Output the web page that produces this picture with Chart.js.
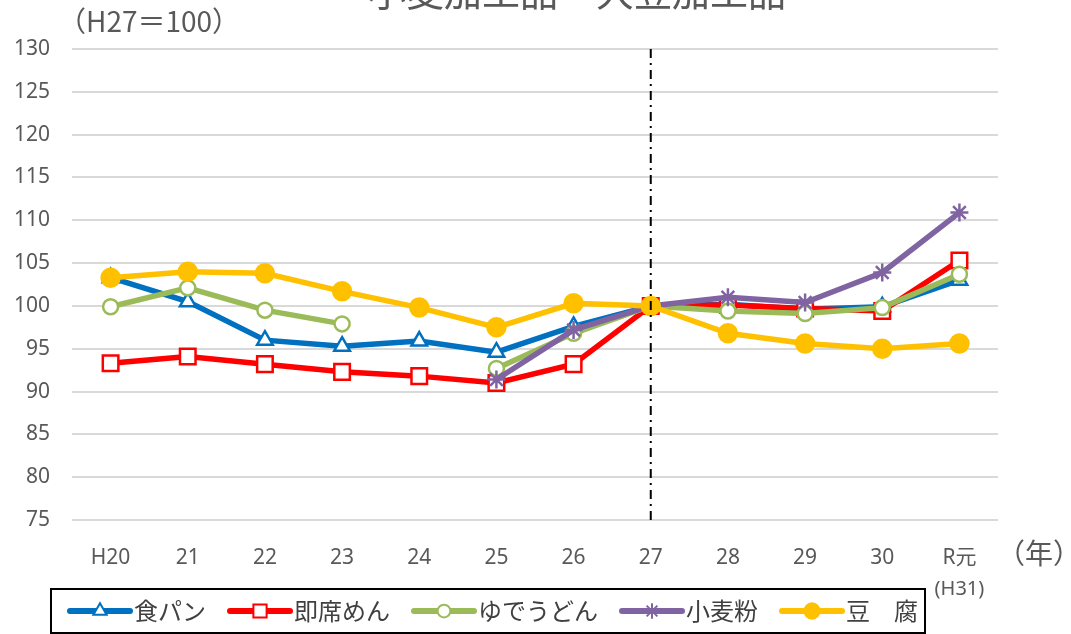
<!DOCTYPE html>
<html lang="ja">
<head>
  <meta charset="UTF-8">
  <title>小麦加工品・大豆加工品</title>
  <script src="https://cdn.jsdelivr.net/npm/chart.js"></script>
  <style>
    html, body { margin: 0; padding: 0; background: #fff; }
    #wrap { width: 1071px; height: 634px; }
  </style>
</head>
<body>
  <div id="wrap"><canvas id="chart" width="1071" height="634"></canvas></div>

  <script>
    // data (H27 = 100)
    const years = ['H20', '21', '22', '23', '24', '25', '26', '27', '28', '29', '30', 'R元'];
    const shokupan = [103.3, 100.5, 96.0, 95.3, 95.9, 94.6, 97.6, 100, 100.2, 99.6, 99.9, 103.0];
    const sokuseki = [93.3, 94.1, 93.2, 92.3, 91.8, 91.0, 93.2, 100, 100.1, 99.7, 99.4, 105.3];
    const yudeudon = [99.9, 102.1, 99.5, 97.9, null, 92.7, 96.8, 100, 99.4, 99.1, 99.8, 103.7];
    const komugiko = [null, null, null, null, null, 91.4, 97.2, 100, 101.0, 100.4, 103.9, 110.9];
    const tofu = [103.3, 104.0, 103.8, 101.7, 99.8, 97.5, 100.3, 100, 96.8, 95.6, 95.0, 95.6];
    const yTicks = { min: 75, max: 130, step: 5 };

    const FONT = '"Noto Sans", "Noto Sans CJK JP", sans-serif';
    const JFONT = '"Noto Sans CJK JP", "Noto Sans", sans-serif';
    const GREY = '#595959';

    function series(label, data, color, style, radius, fill, order) {
      return {
        label: label,
        data: data,
        borderColor: color,
        backgroundColor: color,
        borderWidth: 5.5,
        pointStyle: style,
        pointRadius: radius,
        pointBorderWidth: 2.5,
        pointBorderColor: color,
        pointBackgroundColor: fill,
        tension: 0,
        order: order
      };
    }

    // text, the dash-dot line at 27 and the boxed legend
    const extras = {
      id: 'extras',
      afterDatasetsDraw(chart) {
        const ctx = chart.ctx;
        const area = chart.chartArea;
        const x = chart.scales.x;
        ctx.save();
        // dash-dot marker at H27
        const x27 = x.getPixelForValue(7);
        ctx.strokeStyle = '#000';
        ctx.lineWidth = 2;
        ctx.setLineDash([9, 5, 2, 5]);
        ctx.beginPath();
        ctx.moveTo(x27, area.top);
        ctx.lineTo(x27, area.bottom);
        ctx.stroke();
        ctx.restore();
      },
      afterDraw(chart) {
        const ctx = chart.ctx;
        const x = chart.scales.x;
        ctx.save();
        ctx.fillStyle = GREY;

        // title (top cut off in the original)
        ctx.font = '38px ' + JFONT;
        ctx.textAlign = 'center';
        ctx.textBaseline = 'alphabetic';
        ctx.fillText('小麦加工品・大豆加工品', 577, 6);

        ctx.font = '28px ' + JFONT;
        ctx.textAlign = 'left';
        ctx.textBaseline = 'middle';
        ctx.fillText('（H27＝100）', 58, 21);

        ctx.font = '28px ' + JFONT;
        ctx.fillText('（年）', 997, 553);

        ctx.font = '20px ' + FONT;
        ctx.textAlign = 'center';
        ctx.fillText('(H31)', x.getPixelForValue(11), 589);

        // legend
        ctx.strokeStyle = '#000';
        ctx.lineWidth = 2;
        ctx.strokeRect(51, 589, 874, 44);
        ctx.font = '24px ' + JFONT;
        ctx.textAlign = 'left';
        let lx = 70;
        const ly = 611;
        chart.data.datasets.forEach(ds => {
          ctx.strokeStyle = ds.borderColor;
          ctx.lineWidth = 6;
          ctx.lineCap = 'round';
          ctx.beginPath();
          ctx.moveTo(lx, ly);
          ctx.lineTo(lx + 60, ly);
          ctx.stroke();
          ctx.lineCap = 'butt';
          ctx.fillStyle = ds.pointBackgroundColor;
          ctx.strokeStyle = ds.pointBorderColor;
          ctx.lineWidth = 2;
          Chart.helpers.drawPoint(ctx, {
            pointStyle: ds.pointStyle,
            radius: ds.pointRadius * 0.85,
            borderWidth: 2
          }, lx + 30, ly);
          ctx.fillStyle = '#404040';
          ctx.fillText(ds.label, lx + 64, ly);
          lx += 64 + ctx.measureText(ds.label).width + 24;
        });
        ctx.restore();
      }
    };

    const chart = new Chart(document.getElementById('chart'), {
      type: 'line',
      data: {
        labels: years,
        datasets: [
          series('食パン', shokupan, '#0070C0', 'triangle', 9, '#fff', 5),
          series('即席めん', sokuseki, '#FF0000', 'rect', 11, '#fff', 4),
          series('ゆでうどん', yudeudon, '#9BBB59', 'circle', 7.5, '#fff', 3),
          series('小麦粉', komugiko, '#8064A2', 'star', 9, '#8064A2', 2),
          series('豆　腐', tofu, '#FFC000', 'circle', 9, '#FFC000', 1)
        ]
      },
      options: {
        responsive: false,
        animation: false,
        events: [],
        layout: { padding: { top: 49, right: 73, left: 0, bottom: 0 } },
        plugins: {
          legend: { display: false },
          title: { display: false },
          tooltip: { enabled: false }
        },
        scales: {
          x: {
            offset: true,
            grid: { display: false },
            border: { display: false },
            ticks: { color: GREY, font: { family: FONT, size: 21 }, padding: 17, maxRotation: 0 },
            afterFit(scale) { scale.height = 114; }
          },
          y: {
            min: yTicks.min,
            max: yTicks.max,
            grid: { color: '#D9D9D9', lineWidth: 2, drawTicks: false },
            border: { display: false },
            ticks: { stepSize: yTicks.step, color: GREY, font: { family: FONT, size: 21 }, padding: 22 },
            afterFit(scale) { scale.width = 72; }
          }
        }
      },
      plugins: [extras]
    });
  </script>
</body>
</html>
